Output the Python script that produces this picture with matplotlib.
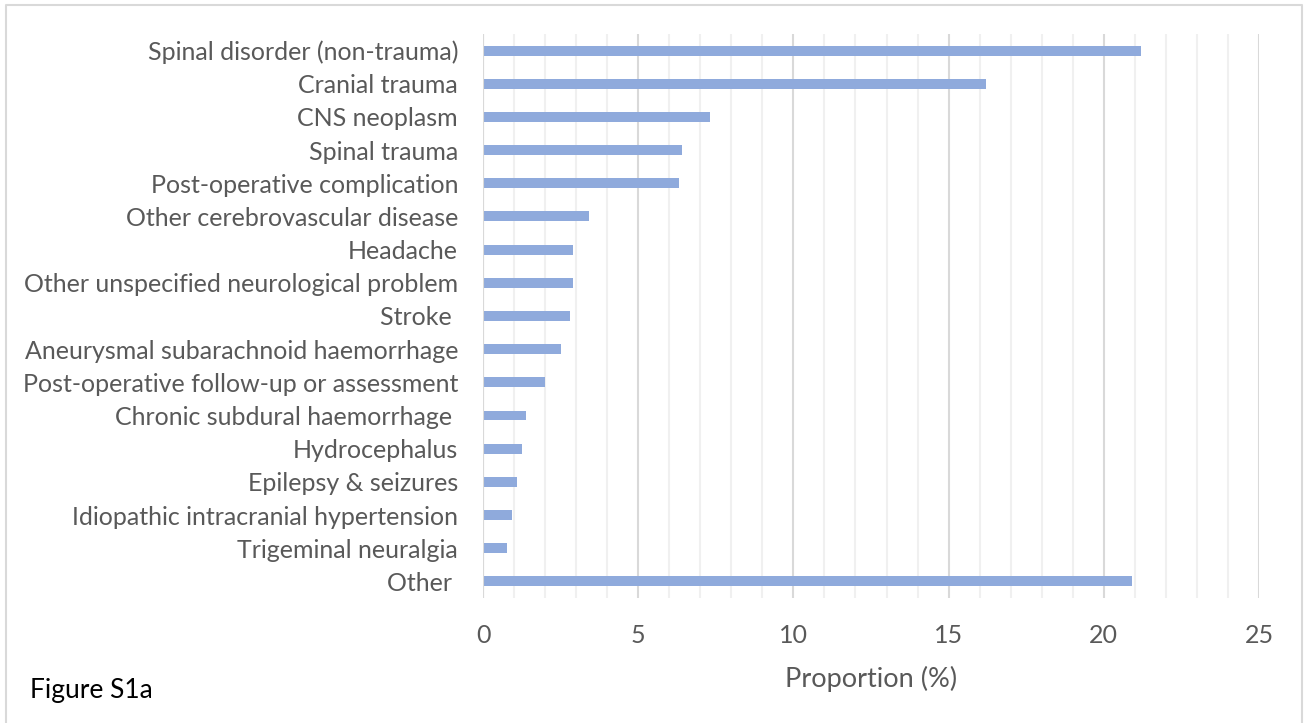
import numpy as np
import matplotlib.pyplot as plt
from matplotlib.lines import Line2D
from matplotlib.ticker import MultipleLocator

# Categories (top to bottom) and proportions (%)
categories = [
    "Spinal disorder (non-trauma)",
    "Cranial trauma",
    "CNS neoplasm",
    "Spinal trauma",
    "Post-operative complication",
    "Other cerebrovascular disease",
    "Headache",
    "Other unspecified neurological problem",
    "Stroke ",
    "Aneurysmal subarachnoid haemorrhage",
    "Post-operative follow-up or assessment",
    "Chronic subdural haemorrhage ",
    "Hydrocephalus",
    "Epilepsy & seizures",
    "Idiopathic intracranial hypertension",
    "Trigeminal neuralgia",
    "Other ",
]
proportions = [21.2, 16.2, 7.3, 6.4, 6.3, 3.4, 2.9, 2.9, 2.8, 2.5, 2.0,
               1.4, 1.25, 1.1, 0.93, 0.76, 20.9]

plt.rcParams['font.family'] = ['Lato', 'DejaVu Sans']

fig = plt.figure(figsize=(13.04, 7.23), dpi=100)
ax = fig.add_axes([0.3704, 0.1729, 0.5951, 0.7801])

y = np.arange(len(categories))
ax.barh(y, proportions, height=0.3, color="#8FAADC", zorder=3)

ax.set_ylim(len(categories) - 0.5, -0.5)
ax.set_xlim(0, 25)
ax.set_yticks(y)
ax.set_yticklabels(categories)
ax.xaxis.set_major_locator(MultipleLocator(5))
ax.xaxis.set_minor_locator(MultipleLocator(1))

ax.grid(axis="x", which="major", color="#d9d9d9", linewidth=1.5, zorder=0)
ax.grid(axis="x", which="minor", color="#f0f0f0", linewidth=1.5, zorder=0)
for s in ax.spines.values():
    s.set_visible(False)
ax.axvline(0, color="#d9d9d9", linewidth=1.5, zorder=4)

ax.tick_params(axis="y", length=0, pad=18, labelsize=18, labelcolor="#595959")
ax.tick_params(axis="x", which="both", length=0, pad=19, labelsize=18, labelcolor="#595959")
ax.set_xlabel("Proportion (%)", fontsize=19.5, color="#595959", labelpad=13)

fig.text(0.023, 0.045, "Figure S1a", fontsize=19, color="black", va="center")

# chart frame: left, top and right edges only
x0, x1, ytop = 6 / 1304, 1302 / 1304, 1 - 5 / 723
fig.add_artist(Line2D([x0, x0, x1, x1], [0, ytop, ytop, 0],
                      transform=fig.transFigure, color="#d9d9d9", linewidth=1.5))

fig.savefig("out.png", dpi=100)
